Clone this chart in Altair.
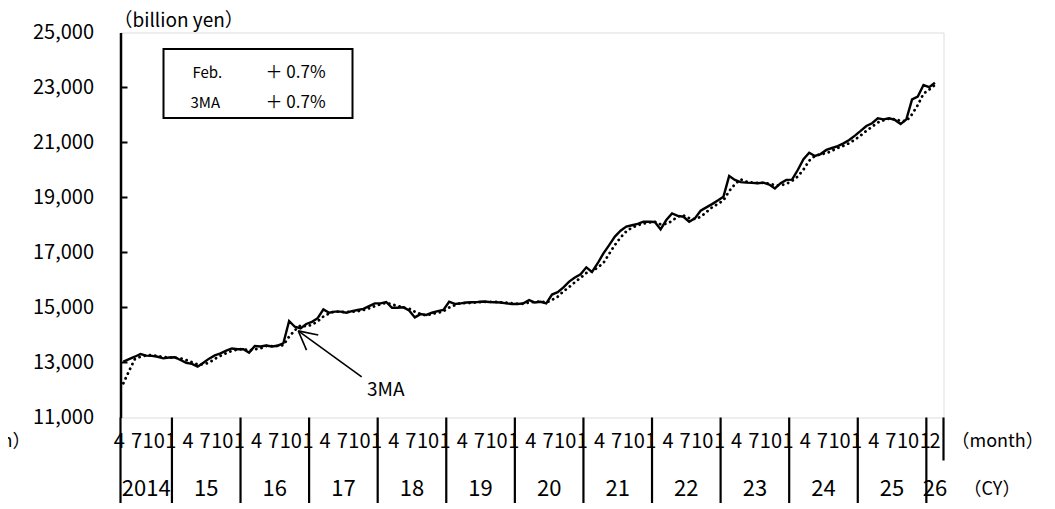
import altair as alt
import pandas as pd

# ---------------- data ----------------
start_year, start_month = 2014, 4          # first plotted month: Apr 2014
n_slots = 144                              # Apr 2014 .. Mar 2026 (last slot empty)
values = [
    13030, 13120, 13210, 13310, 13250, 13240, 13210, 13150, 13180,          # 2014 Apr-Dec
    13190, 13090, 12990, 12950, 12850, 12990, 13140, 13260, 13330, 13430, 13510, 13480,  # 2015
    13480, 13360, 13600, 13580, 13620, 13580, 13610, 13700, 14510, 14300, 14240, 14400,  # 2016
    14480, 14610, 14930, 14810, 14850, 14850, 14810, 14870, 14910, 14950, 15050, 15150,  # 2017
    15150, 15200, 14990, 14990, 15010, 14890, 14640, 14760, 14730, 14810, 14870, 14910,  # 2018
    15210, 15130, 15150, 15180, 15190, 15200, 15220, 15200, 15190, 15180, 15150, 15130,  # 2019
    15130, 15150, 15270, 15180, 15210, 15150, 15470, 15560, 15730, 15940, 16090, 16210,  # 2020
    16460, 16290, 16610, 16970, 17270, 17580, 17790, 17940, 17990, 18040, 18120, 18120,  # 2021
    18110, 17840, 18180, 18420, 18330, 18300, 18120, 18240, 18520, 18640, 18760, 18890,  # 2022
    19030, 19780, 19640, 19560, 19540, 19530, 19520, 19540, 19470, 19330, 19520, 19640,  # 2023
    19650, 20000, 20390, 20630, 20510, 20580, 20730, 20800, 20870, 20970, 21090, 21250,  # 2024
    21420, 21600, 21700, 21880, 21840, 21880, 21820, 21670, 21840, 22570, 22670, 23090,  # 2025
    23010, 23170,                                                                        # 2026 Jan-Feb
]
pre_values = [11780, 11930]                # Feb, Mar 2014 (only feed the 3-month average)
y_ticks = [11000, 13000, 15000, 17000, 19000, 21000, 23000, 25000]
year_labels = ["2014", "15", "16", "17", "18", "19", "20", "21", "22", "23", "24", "25", "26"]
month_labels = {1: "1", 4: "4", 7: "7", 10: "10"}
last_label = "2"
legend_names = ["Feb.", "3MA"]
legend_changes = ["＋ 0.7%", "＋ 0.7%"]
unit_label = "（billion yen）"
month_unit = "（month）"
year_unit = "（CY）"
note_text = "3MA"
# annotation arrow in data space (month slot, value)
arrow_tip = (31.1, 14150)
arrow_tail = (42.2, 12480)
arrow_arm1 = (34.6, 14000)
arrow_arm2 = (32.55, 13450)
note_pos = (46.4, 12000)

# ---------------- tables ----------------
FONT = "Noto Sans CJK JP"
all_vals = pre_values + values
rows = []
for k, v in enumerate(all_vals):
    idx = k - len(pre_values)
    m0 = start_month - 1 + idx
    rows.append({"idx": idx, "pos": idx + 0.5, "value": v,
                 "year": start_year + m0 // 12, "month": m0 % 12 + 1})
df = pd.DataFrame(rows)
plot_rows = [r for r in rows if r["idx"] >= 0]

# month tick labels
ml = []
for r in plot_rows:
    if r["month"] in month_labels:
        ml.append({"pos": r["pos"], "label": month_labels[r["month"]], "kind": "q"})
ml.append({"pos": plot_rows[-1]["pos"], "label": last_label, "kind": "last"})
ml_df = pd.DataFrame(ml)

# year segments
bounds = [0] + [r["idx"] for r in plot_rows if r["month"] == 1] + [n_slots]
yr_df = pd.DataFrame({"mid": [(bounds[k] + bounds[k + 1]) / 2 for k in range(len(year_labels))],
                      "label": year_labels})
bnd_df = pd.DataFrame({"b": bounds[:-1]})
right_df = pd.DataFrame({"b": [n_slots]})
tick_df = pd.DataFrame({"t": y_ticks[1:-1]})
ann_df = pd.DataFrame({
    "x": [arrow_tip[0]] * 3,
    "y": [arrow_tip[1]] * 3,
    "x2": [arrow_tail[0], arrow_arm1[0], arrow_arm2[0]],
    "y2": [arrow_tail[1], arrow_arm1[1], arrow_arm2[1]],
})
note_df = pd.DataFrame({"x": [note_pos[0]], "y": [note_pos[1]], "t": [note_text]})

W, H = 823, 385
xs = alt.Scale(domain=[0, n_slots], nice=False, zero=False)
ys = alt.Scale(domain=[y_ticks[0], y_ticks[-1]], nice=False, zero=False)

base_line = alt.Chart(df).transform_window(
    ma3="mean(value)", frame=[-2, 0], sort=[alt.SortField("idx")]
).transform_filter("datum.idx >= 0")

solid = base_line.mark_line(color="black", strokeWidth=2.4).encode(
    x=alt.X("pos:Q", scale=xs, axis=None),
    y=alt.Y("value:Q", scale=ys,
            axis=alt.Axis(values=y_ticks, format=",d", ticks=False, grid=False,
                          domainColor="black", domainWidth=2.5, labelFont=FONT,
                          labelFontSize=20, labelColor="black", labelPadding=27,
                          title=None)),
)
dotted = base_line.mark_line(color="black", strokeWidth=2.8, strokeDash=[0.1, 5.2],
                             strokeCap="round").encode(
    x=alt.X("pos:Q", scale=xs), y=alt.Y("ma3:Q", scale=ys))

ticks = alt.Chart(tick_df).mark_rule(color="black", strokeWidth=2).encode(
    y=alt.Y("t:Q", scale=ys), x=alt.value(0), x2=alt.value(7))

bnd = alt.Chart(bnd_df).mark_rule(color="black", strokeWidth=2.2).encode(
    x=alt.X("b:Q", scale=xs), y=alt.value(H), y2=alt.value(H + 92))
rbnd = alt.Chart(right_df).mark_rule(color="black", strokeWidth=2.2).encode(
    x=alt.X("b:Q", scale=xs), y=alt.value(H), y2=alt.value(H + 43))

mtext_layers = []
for kind, dx in [("q", -4), ("last", 0)]:
    mtext_layers.append(
        alt.Chart(ml_df).transform_filter(alt.datum.kind == kind)
        .mark_text(font=FONT, fontSize=20, color="black", dx=dx, baseline="middle")
        .encode(x=alt.X("pos:Q", scale=xs), y=alt.value(H + 24), text="label:N"))

ytext = alt.Chart(yr_df).mark_text(font=FONT, fontSize=22, color="black", baseline="middle").encode(
    x=alt.X("mid:Q", scale=xs), y=alt.value(H + 71), text="label:N")

def label(txt, x, y, size=18, align="left"):
    return alt.Chart(pd.DataFrame({"t": [txt]})).mark_text(
        font=FONT, fontSize=size, color="black", align=align, baseline="middle"
    ).encode(x=alt.value(x), y=alt.value(y), text="t:N")

units = [
    label(unit_label, -7, -12, 19),
    label(month_unit, W + 8, H + 24, 18),
    label(year_unit, W + 20, H + 72, 18),
    label(month_unit, -90, H + 24, 18, align="right"),
]

legend_box = alt.Chart(pd.DataFrame({"a": [0]})).mark_rect(
    fill="white", stroke="black", strokeWidth=2).encode(
    x=alt.value(43), x2=alt.value(232), y=alt.value(16.5), y2=alt.value(85.5))
legend_txt = [
    label(legend_names[0], 72, 40, 15), label(legend_changes[0], 145, 40, 17),
    label(legend_names[1], 70, 70, 15), label(legend_changes[1], 145, 70, 17),
]

arrow = alt.Chart(ann_df).mark_rule(color="black", strokeWidth=1.6).encode(
    x=alt.X("x:Q", scale=xs), y=alt.Y("y:Q", scale=ys),
    x2="x2:Q", y2="y2:Q")
note = alt.Chart(note_df).mark_text(font=FONT, fontSize=19, color="black").encode(
    x=alt.X("x:Q", scale=xs), y=alt.Y("y:Q", scale=ys), text="t:N")

chart = alt.layer(
    solid, dotted, ticks, bnd, rbnd, *mtext_layers, ytext, *units,
    legend_box, *legend_txt, arrow, note
).properties(
    width=W, height=H,
    autosize=alt.AutoSizeParams(type="none"),
    padding={"left": 112.5, "top": 24.5, "right": 103, "bottom": 85},
).configure_view(stroke="black", strokeWidth=2.5).configure(background="white")

chart.save("out.html", embed_options={"renderer": "svg", "actions": False})
